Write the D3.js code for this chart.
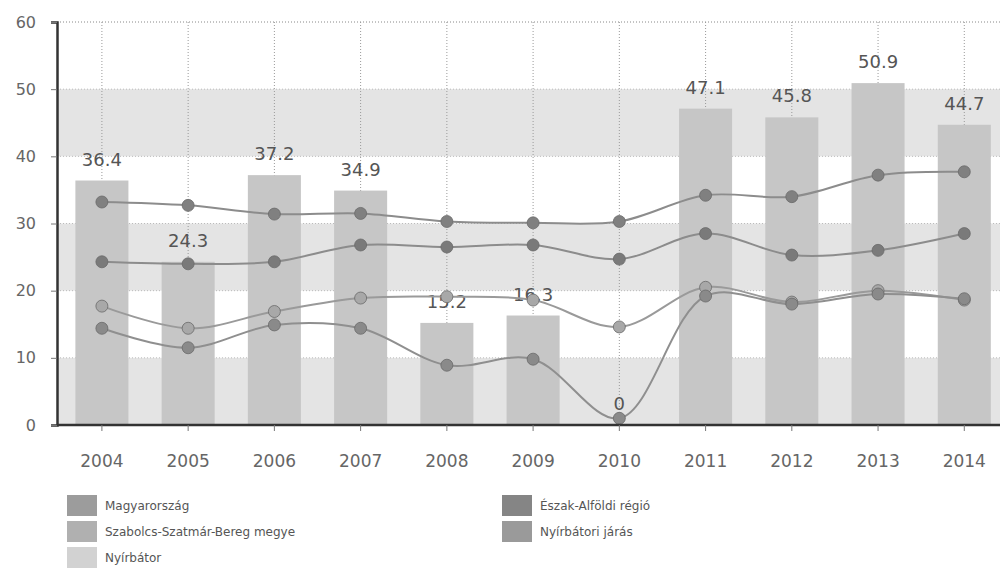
<!DOCTYPE html>
<html>
<head>
<meta charset="utf-8">
<script src="https://cdn.jsdelivr.net/npm/d3@7"></script>
<style>
  html, body { margin: 0; padding: 0; background: #fff; }
  svg { display: block; font-family: "DejaVu Sans", Verdana, sans-serif; }
</style>
</head>
<body>
<svg id="chart" width="1000" height="583"></svg>
<script>
// ---- data ----
const years = ["2004","2005","2006","2007","2008","2009","2010","2011","2012","2013","2014"];
const nyirbator = [36.4, 24.3, 37.2, 34.9, 15.2, 16.3, 0, 47.1, 45.8, 50.9, 44.7];
const szabolcs = [33.2, 32.7, 31.4, 31.5, 30.3, 30.1, 30.3, 34.2, 34.0, 37.2, 37.7];
const eszakAlfold = [24.3, 24.0, 24.3, 26.8, 26.5, 26.8, 24.7, 28.5, 25.3, 26.0, 28.5];
const magyarorszag = [17.7, 14.4, 16.9, 18.9, 19.1, 18.6, 14.6, 20.5, 18.3, 20.0, 18.6];
const jaras = [14.4, 11.5, 14.9, 14.4, 8.9, 9.8, 1.0, 19.2, 18.0, 19.5, 18.8];
const yTicks = [0, 10, 20, 30, 40, 50, 60];
const bandRanges = [[0, 10], [20, 30], [40, 50]];
const legendLeft = ["Magyarország", "Szabolcs-Szatmár-Bereg megye", "Nyírbátor"];
const legendRight = ["Észak-Alföldi régió", "Nyírbátori járás"];

// ---- layout ----
const svg = d3.select("#chart");
const plotLeft = 57, plotRight = 1007, yTop = 22, yBottom = 425;

const x = d3.scaleBand().domain(years).range([59, 59 + 11 * 86.2]).paddingInner(0.385).paddingOuter(0.19);
const xc = d => x(d) + x.bandwidth() / 2;
const y = d3.scaleLinear().domain([0, 60]).range([yBottom, yTop]);

// shaded bands
svg.append("g").selectAll("rect").data(bandRanges).join("rect")
  .attr("x", plotLeft).attr("width", plotRight - plotLeft)
  .attr("y", d => y(d[1])).attr("height", d => y(d[0]) - y(d[1]))
  .attr("fill", "#e4e4e4");

// horizontal grid
svg.append("g").selectAll("line").data(yTicks.filter(t => t > 0)).join("line")
  .attr("x1", plotLeft).attr("x2", plotRight)
  .attr("y1", d => y(d)).attr("y2", d => y(d))
  .attr("stroke", d => d === 60 ? "#888" : "#bbb").attr("stroke-width", 1)
  .attr("stroke-dasharray", "1,2");

// vertical grid
svg.append("g").selectAll("line").data(years).join("line")
  .attr("x1", d => xc(d)).attr("x2", d => xc(d))
  .attr("y1", y(60)).attr("y2", y(0))
  .attr("stroke", "#999").attr("stroke-width", 1)
  .attr("stroke-dasharray", "1,2");

// bars
const barData = years.map((yr, i) => ({yr, v: nyirbator[i]}));
svg.append("g").selectAll("rect").data(barData).join("rect")
  .attr("x", d => x(d.yr)).attr("width", x.bandwidth())
  .attr("y", d => y(d.v)).attr("height", d => y(0) - y(d.v))
  .attr("fill", "#c6c6c6");

// bar labels
svg.append("g").selectAll("text").data(barData).join("text")
  .attr("x", d => xc(d.yr)).attr("y", d => y(d.v) - 15)
  .attr("text-anchor", "middle").attr("font-size", 18)
  .attr("fill", "#555")
  .text(d => d3.format(".1f")(d.v).replace(/\.0$/, ""));

// lines
const series = [
  {name: "Szabolcs-Szatmár-Bereg megye", vals: szabolcs, stroke: "#8c8c8c", mark: "#808080"},
  {name: "Észak-Alföldi régió", vals: eszakAlfold, stroke: "#8c8c8c", mark: "#7a7a7a"},
  {name: "Magyarország", vals: magyarorszag, stroke: "#9a9a9a", mark: "#a8a8a8"},
  {name: "Nyírbátori járás", vals: jaras, stroke: "#8f8f8f", mark: "#8a8a8a"}
];
const line = d3.line().x(d => xc(d.yr)).y(d => y(d.v)).curve(d3.curveCatmullRom.alpha(0.5));
series.forEach(s => {
  const pts = years.map((yr, i) => ({yr, v: s.vals[i]}));
  svg.append("path").datum(pts).attr("d", line)
    .attr("fill", "none").attr("stroke", s.stroke).attr("stroke-width", 2);
  svg.append("g").selectAll("circle").data(pts).join("circle")
    .attr("cx", d => xc(d.yr)).attr("cy", d => y(d.v)).attr("r", 6)
    .attr("fill", s.mark).attr("stroke", "#6a6a6a").attr("stroke-width", 0.8);
});

// axes
const yAxis = d3.axisLeft(y).tickValues(yTicks).tickSize(6).tickPadding(15);
const gy = svg.append("g").attr("transform", `translate(${plotLeft},0)`).call(yAxis);
gy.select(".domain").attr("stroke", "#333").attr("stroke-width", 2.5);
gy.selectAll(".tick line").attr("stroke", "#777");
gy.selectAll(".tick text").attr("font-size", 16).attr("fill", "#666")
  .attr("font-family", "DejaVu Sans, sans-serif");

const xAxis = d3.axisBottom(x).tickSize(6).tickPadding(24);
const gx = svg.append("g").attr("transform", `translate(0,${yBottom})`).call(xAxis);
gx.select(".domain").attr("d", `M${plotLeft},0H${plotRight}`).attr("stroke", "#333").attr("stroke-width", 2.5);
gx.selectAll(".tick line").attr("stroke", "#777");
gx.selectAll(".tick text").attr("font-size", 17).attr("fill", "#666")
  .attr("font-family", "DejaVu Sans, sans-serif");

// legend
const legColors = {
  "Magyarország": "#9c9c9c",
  "Szabolcs-Szatmár-Bereg megye": "#b0b0b0",
  "Nyírbátor": "#d2d2d2",
  "Észak-Alföldi régió": "#858585",
  "Nyírbátori járás": "#9a9a9a"
};
function legendCol(names, x0) {
  const g = svg.append("g");
  const items = g.selectAll("g").data(names).join("g")
    .attr("transform", (d, i) => `translate(${x0},${495 + i * 26})`);
  items.append("rect").attr("width", 30).attr("height", 21).attr("fill", d => legColors[d]);
  items.append("text").attr("x", 38).attr("y", 15).attr("font-size", 12)
    .attr("fill", "#555").text(d => d);
}
legendCol(legendLeft, 67);
legendCol(legendRight, 502);
</script>
</body>
</html>
